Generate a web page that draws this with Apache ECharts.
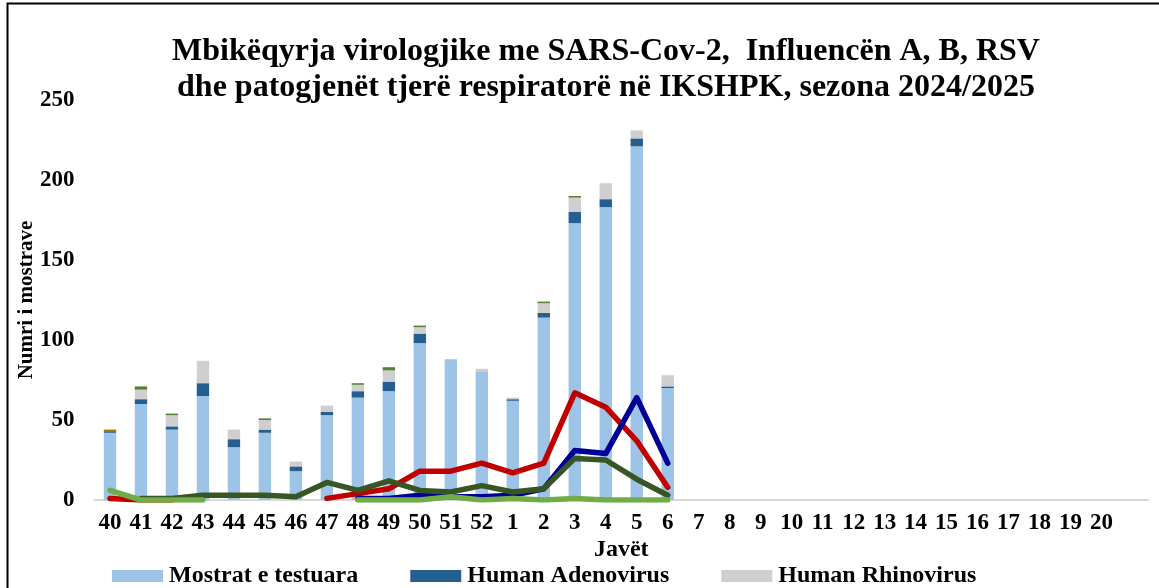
<!DOCTYPE html>
<html>
<head>
<meta charset="utf-8">
<script src="https://cdn.jsdelivr.net/npm/echarts@6/dist/echarts.min.js"></script>
<style>html,body{margin:0;padding:0;background:#fff}#c{width:1159px;height:588px}</style>
</head>
<body>
<div id="c"></div>
<script>
var weeks = ['40','41','42','43','44','45','46','47','48','49','50','51','52','1','2','3','4','5','6','7','8','9','10','11','12','13','14','15','16','17','18','19','20',''];
var testedSamples = [42,60,44,65,33,42,18,53,64,68,98,88,80,62,114,173,183,221,70];
var adenovirus    = [1,3,2,8,5,2,3,2,4,6,6,0,0,1,3,7,5,5,1];
var rhinovirus    = [0,6,7,14,6,6,3,4,4,7,4,0,2,1,6,9,10,5,7];
var otherGreen    = [0,2,1,0,0,1,0,0,1,2,1,0,0,0,1,1,0,0,0];
var otherGold     = [1,0,0,0,0,0,0,0,0,0,0,0,0,0,0,0,0,0,0];
var lineRed       = [1,0,0,null,null,null,null,1,4,7,18,18,23,17,23,67,58,37,8];
var lineBlue      = [null,null,null,null,null,null,null,null,1,1,3,2,2,3,7,31,29,64,23];
var lineDarkGreen = [null,1,1,3,3,3,2,11,6,12,6,5,9,5,7,26,25,13,3];
var lineLightGreen= [6,0,0,0,null,null,null,null,0,0,0,2,0,1,0,1,0,0,0];

var FONT = "'Liberation Serif','Times New Roman',serif";
var chart = echarts.init(document.getElementById('c'), null, {renderer:'canvas'});

function barSeries(name, data, color){
  return {name:name, type:'bar', stack:'s', data:data, barWidth:'40%',
    itemStyle:{color:color}, emphasis:{disabled:true}};
}
function lineSeries(name, data, color){
  return {name:name, type:'line', data:data, showSymbol:false, symbol:'none',
    lineStyle:{color:color, width:5.5, cap:'round', join:'round'}, itemStyle:{color:color},
    emphasis:{disabled:true}, z:3};
}

chart.setOption({
  animation:false,
  backgroundColor:'#fff',
  title:{
    text:'Mbikëqyrja virologjike me SARS-Cov-2,  Influencën A, B, RSV\ndhe patogjenët tjerë respiratorë në IKSHPK, sezona 2024/2025',
    left:601, top:29, textAlign:'center',
    textStyle:{fontFamily:FONT, fontWeight:'bold', fontSize:32, lineHeight:36, color:'#000'}
  },
  legend:{
    data:['Mostrat e testuara','Human Adenovirus','Human Rhinovirus'],
    top:559, left:107, itemWidth:51, itemHeight:12, itemGap:52,
    icon:'rect',
    textStyle:{fontFamily:FONT, fontWeight:'bold', fontSize:24, color:'#000', padding:[0,0,0,1]}
  },
  grid:{left:94.5, right:11, top:100, bottom:88, containLabel:false},
  xAxis:{
    type:'category', data:weeks,
    axisLine:{show:true, lineStyle:{color:'#D9D9D9', width:2}},
    axisTick:{show:false},
    axisLabel:{interval:0, margin:12, fontFamily:FONT, fontWeight:'bold', fontSize:23, color:'#000'},
    name:'Javët', nameLocation:'middle', nameGap:38, nameMoveOverlap:false,
    nameTextStyle:{fontFamily:FONT, fontWeight:'bold', fontSize:24, color:'#000'}
  },
  yAxis:{
    type:'value', min:0, max:250, interval:50,
    splitLine:{show:false}, axisLine:{show:false}, axisTick:{show:false},
    axisLabel:{margin:20, fontFamily:FONT, fontWeight:'bold', fontSize:23, color:'#000'},
    name:'Numri i mostrave', nameLocation:'middle', nameGap:57, nameRotate:90, nameMoveOverlap:false,
    nameTextStyle:{fontFamily:FONT, fontWeight:'bold', fontSize:21, color:'#000'}
  },
  graphic:[{type:'polyline', shape:{points:[[7.5,600],[7.5,3.5],[1170,3.5]]},
    style:{stroke:'#000', lineWidth:2, fill:null}, silent:true}],
  series:[
    barSeries('Mostrat e testuara', testedSamples, '#9DC3E6'),
    barSeries('Human Adenovirus', adenovirus, '#255E91'),
    barSeries('Human Rhinovirus', rhinovirus, '#D0CECE'),
    barSeries('Të tjerë', otherGreen, '#548235'),
    barSeries('Të tjerë 2', otherGold, '#9C7A00'),
    lineSeries('RSV', lineRed, '#C00000'),
    lineSeries('Influenca', lineBlue, '#000099'),
    lineSeries('SARS-CoV-2', lineDarkGreen, '#375623'),
    lineSeries('Tjetër', lineLightGreen, '#70AD47')
  ]
});
</script>
</body>
</html>
